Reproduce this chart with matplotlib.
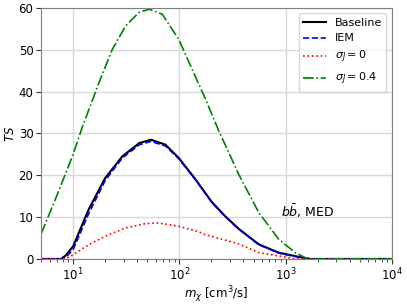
import matplotlib.pyplot as plt
import numpy as np

# values
base_x = [5, 7, 7.7, 8.5, 10, 14, 20, 29, 42, 54, 74, 99, 142, 202, 270, 362, 558, 861, 1326, 1700, 10000]
base_ts = [0, 0, 0, 0.8, 3.0, 11.8, 19.3, 24.5, 27.7, 28.5, 27.3, 24.1, 19.0, 13.6, 10.2, 7.2, 3.5, 1.5, 0.5, 0, 0]
iem_ts = [0, 0, 0, 0.4, 2.2, 10.8, 18.7, 24.1, 27.3, 28.1, 27.0, 23.9, 18.9, 13.5, 10.1, 7.1, 3.4, 1.4, 0.4, 0, 0]

sig0_x = [5, 8.5, 10, 14, 20, 31, 48, 64, 99, 152, 176, 362, 558, 920, 1200, 10000]
sig0_ts = [0, 0, 1.0, 3.4, 5.4, 7.4, 8.45, 8.6, 7.8, 6.5, 5.8, 3.6, 1.5, 0.6, 0, 0]

sig4_x = [5, 7, 10, 12.2, 17.5, 23.4, 31.2, 41.6, 51.7, 69, 98.6, 132, 176, 235, 362, 558, 861, 1230, 1530, 1700, 10000]
sig4_ts = [6, 15, 25, 31.5, 42.1, 50.1, 55.7, 58.9, 59.7, 58.5, 52.5, 45.3, 38.2, 30.6, 20.2, 11.1, 4.7, 1.5, 0.3, 0, 0]

fig = plt.figure(figsize=(4.07, 3.05), dpi=100)
ax = fig.add_axes([0.101, 0.151, 0.862, 0.823])

ax.plot(base_x, base_ts, color='black', lw=1.5, label='Baseline')
ax.plot(base_x, iem_ts, color='blue', lw=1.2, ls='--', label='IEM')
ax.plot(sig0_x, sig0_ts, color='red', lw=1.2, ls=':', label=r'$\sigma_J = 0$')
ax.plot(sig4_x, sig4_ts, color='green', lw=1.2, ls='-.', label=r'$\sigma_J = 0.4$')

ax.set_xscale('log')
ax.set_xlim(5, 1e4)
ax.set_ylim(0, 60)
ax.grid(True, color='0.85', lw=1)
ax.set_axisbelow(True)
for s in ax.spines.values():
    s.set_color('0.5')
ax.tick_params(which='both', colors='0.2', labelcolor='black', labelsize=8.5, pad=2)

ax.set_xlabel(r'$m_\chi$ [cm$^3$/s]', fontsize=8.5, labelpad=1)
ax.set_ylabel(r'$TS$', fontsize=8.5, labelpad=1)
ax.text(900, 10, r'$b\bar{b}$, MED', fontsize=9)
ax.legend(loc='upper right', fontsize=8)

fig.savefig('out.png', dpi=100)
